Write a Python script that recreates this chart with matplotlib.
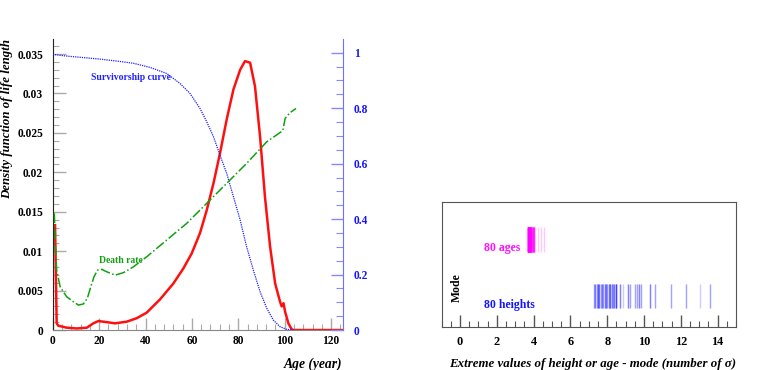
import matplotlib.pyplot as plt
from matplotlib.ticker import MultipleLocator

plt.rcParams['font.family'] = ['Liberation Serif', 'DejaVu Serif']
plt.rcParams['font.weight'] = 'bold'
plt.rcParams['axes.labelweight'] = 'bold'

# ---- left panel data ----
density_age = [1.0, 1.7, 2.4, 6, 10.3, 14.7, 17.5, 19.7, 23.3, 26.9, 31.9, 36.2, 40.5,
               46.3, 52, 56.3, 59.9, 63.5, 66.4, 69.3, 72.1, 75, 77.9, 80.8, 82.9,
               85.1, 87.2, 89.4, 91.5, 93.7, 95.9, 98, 98.7, 99.5, 100.2, 101.6, 103,
               103.8, 125]
density = [0.0133, 0.00085, 0.00055, 0.0003, 0.0002, 0.0003, 0.00085, 0.00114, 0.001,
           0.00085, 0.00106, 0.0015, 0.0022, 0.0039, 0.0059, 0.0078, 0.0097, 0.0123,
           0.0152, 0.0186, 0.0224, 0.0267, 0.0305, 0.033, 0.0341, 0.0339, 0.0309,
           0.0245, 0.0169, 0.0106, 0.0059, 0.0036, 0.003, 0.0034, 0.0023, 0.00085,
           0.0001, 0.0, 0.0]

death_age = [0.7, 1.1, 1.7, 3.2, 6, 8.9, 11.1, 13.2, 14.9, 16.4, 17.8, 19.3, 21.1, 23.3,
             26.9, 30.5, 34.8, 40.5, 49.2, 57.8, 66.4, 75, 83.6, 92.3, 99.2, 100.2,
             102.3, 104.9]
death_rate = [0.421, 0.3125, 0.216, 0.156, 0.12, 0.102, 0.09, 0.094, 0.114, 0.156, 0.192,
              0.216, 0.219, 0.21, 0.198, 0.207, 0.228, 0.264, 0.325, 0.385, 0.457, 0.529,
              0.601, 0.679, 0.719, 0.763, 0.784, 0.799]

surv_age = [0, 6, 20.4, 27.6, 34.8, 42, 49.2, 54.9, 59.2, 63.5, 66.4, 69.3, 72.1, 75,
            77.9, 80.8, 83.6, 86.5, 89.4, 92.3, 95.1, 98, 100.9, 103.8]
survival = [0.994, 0.988, 0.977, 0.97, 0.962, 0.947, 0.925, 0.889, 0.853, 0.799, 0.751,
            0.697, 0.631, 0.565, 0.481, 0.397, 0.3, 0.216, 0.138, 0.078, 0.036, 0.012,
            0.0024, 0.0]

# ---- right panel data: extreme values (number of sigma), with multiplicity ----
height_vals = [7.28, 7.35, 7.43, 7.50, 7.57, 7.65, 7.72, 7.79, 7.86, 7.94, 8.01, 8.08,
               8.17, 8.24, 8.32, 8.39, 8.46, 8.72, 8.83, 9.13, 9.26, 9.50, 9.62, 9.75,
               9.86, 10.30, 10.57, 11.46, 12.29, 13.02, 13.56]
height_counts = [2, 3, 2, 4, 3, 2, 3, 2, 3, 3, 2, 3, 4, 3, 2, 3, 6, 3, 1, 3, 2, 2, 2, 3,
                 2, 3, 2, 2, 2, 1, 2]
age_vals = [3.67, 3.70, 3.73, 3.76, 3.79, 3.82, 3.85, 3.88, 3.91, 3.94, 3.97, 4.00,
            4.03, 4.21, 4.40, 4.58]
age_counts = [10, 9, 8, 8, 7, 7, 6, 5, 4, 4, 3, 3, 3, 1, 1, 1]

fig = plt.figure(figsize=(7.63, 3.70), dpi=100)

# ---------------- left panel ----------------
ax = fig.add_axes([0.0691, 0.108, 0.38, 0.7865])
ax.plot(density_age, density, color='#ff1010', lw=1.8)
ax.set_xlim(0, 125)
ax.set_ylim(0, 0.0369)
ax.xaxis.set_major_locator(MultipleLocator(20))
ax.xaxis.set_minor_locator(MultipleLocator(4))
ax.yaxis.set_minor_locator(MultipleLocator(0.001))
ax.set_yticks([0, 0.005, 0.01, 0.015, 0.02, 0.025, 0.03, 0.035])
ax.set_yticklabels(['0', '0.005', '0.01', '0.015', '0.02', '0.025', '0.03', '0.035'])
ax.tick_params(which='both', direction='in', color='#aaaaaa', labelsize=8.3, pad=7,
               top=False, right=False)
ax.tick_params(axis='x', which='both', pad=3.5)
ax.tick_params(which='major', length=9, width=1)
ax.tick_params(which='minor', length=4, width=0.8)
ax.spines['top'].set_visible(False)
ax.spines['right'].set_visible(False)
ax.spines['bottom'].set_color('#888888')
ax.spines['left'].set_color('#222222')
ax.set_ylabel('Density function of life length', fontsize=9.3, style='italic',
              loc='top')
ax.yaxis.set_label_coords(-0.135, 1.0)
ax.set_xlabel('Age (year)', fontsize=9.8, style='italic', loc='right', labelpad=8)

ax2 = ax.twinx()
ax2.plot(surv_age, survival, color='#2020ff', lw=0.9, ls=(0, (1, 0.8)))
ax2.plot(death_age, death_rate, color='#10a010', lw=1.1, ls='-.')
ax2.set_ylim(0, 1.0494)
ax2.set_xlim(0, 125)
ax2.yaxis.set_minor_locator(MultipleLocator(0.05))
ax2.set_yticks([0, 0.2, 0.4, 0.6, 0.8, 1])
ax2.set_yticklabels(['0', '0.2', '0.4', '0.6', '0.8', '1'])
ax2.tick_params(which='both', direction='in', color='#8888ff', labelcolor='#1515ff',
                labelsize=8.3, pad=8)
ax2.tick_params(which='major', length=9, width=1)
ax2.tick_params(which='minor', length=5, width=0.8)
for s in ['top', 'left', 'bottom']:
    ax2.spines[s].set_visible(False)
ax2.spines['right'].set_color('#7070ff')

ax2.text(16.5, 0.90, 'Survivorship curve', color='#2020ff', fontsize=6.9)
ax2.text(20.0, 0.24, 'Death rate', color='#10a010', fontsize=6.9)

# ---------------- right panel ----------------
bx = fig.add_axes([0.5789, 0.117, 0.3857, 0.3362])
for v, n in zip(height_vals, height_counts):
    for _ in range(n):
        bx.vlines(v, 0.148, 0.341, color='#0000ff', alpha=0.2, lw=1.0)
for v, n in zip(age_vals, age_counts):
    for _ in range(n):
        bx.vlines(v, 0.599, 0.80, color='#ff00ff', alpha=0.22, lw=1.0)
bx.set_xlim(-1, 15)
bx.set_ylim(0, 1)
bx.set_yticks([])
bx.xaxis.set_major_locator(MultipleLocator(2))
bx.xaxis.set_minor_locator(MultipleLocator(0.5))
bx.tick_params(which='both', direction='in', color='#555555', labelsize=8.8, pad=7)
bx.tick_params(which='major', length=9, width=1)
bx.tick_params(which='minor', length=4, width=0.8)
for s in bx.spines.values():
    s.set_color('#555555')
bx.text(1.29, 0.633, '80 ages', color='#ff10ff', fontsize=8.5, va='center')
bx.text(1.29, 0.174, '80 heights', color='#1515ff', fontsize=8.5, va='center')
bx.text(-0.2, 0.315, 'Mode', color='black', fontsize=8.5, rotation=90,
        ha='center', va='center')
bx.set_xlabel('Extreme values of height or age - mode (number of σ)', fontsize=9.3,
              style='italic', loc='right', labelpad=7)

fig.savefig('out.png', dpi=100, facecolor='white')
